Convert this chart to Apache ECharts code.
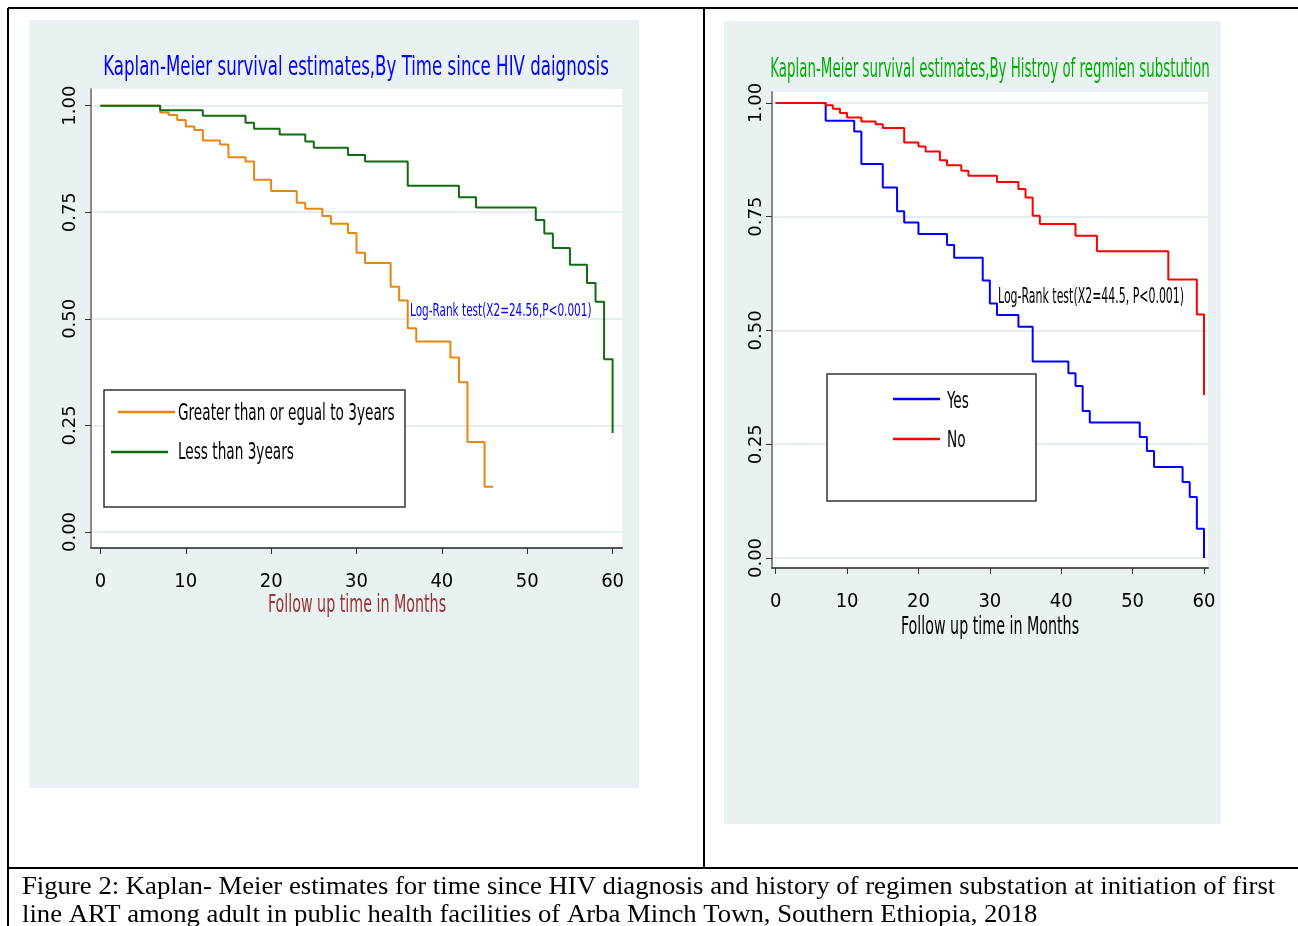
<!DOCTYPE html>
<html>
<head>
<meta charset="utf-8">
<script src="https://cdn.jsdelivr.net/npm/echarts@6/dist/echarts.min.js"></script>
<style>
html,body{margin:0;padding:0;background:#fff;}
#c{width:1298px;height:926px;}
</style>
</head>
<body>
<div id="c"></div>
<script>
// ---------- data ----------
const leftTitle = 'Kaplan-Meier survival estimates,By Time since HIV daignosis';
const rightTitle = 'Kaplan-Meier survival estimates,By Histroy of regmien substution';
const xTicks = [0, 10, 20, 30, 40, 50, 60];
const yTicks = [0, 0.25, 0.5, 0.75, 1];

// Left: time since HIV diagnosis
const gtName = 'Greater than or egual to 3years';
const gtTimes = [0, 7, 8, 9, 10, 11, 12, 14, 15, 17, 18, 20, 23, 24, 26, 27, 29, 30, 31, 34, 35, 36, 37, 41, 42, 43, 45, 46];
const gtSurv  = [1, 0.984, 0.978, 0.966, 0.951, 0.943, 0.918, 0.909, 0.879, 0.869, 0.826, 0.800, 0.772, 0.758, 0.741, 0.723, 0.701, 0.655, 0.631, 0.575, 0.543, 0.478, 0.447, 0.409, 0.351, 0.211, 0.106, 0.106];
const ltName = 'Less than 3years';
const ltTimes = [0, 7, 12, 17, 18, 21, 24, 25, 29, 31, 36, 42, 44, 51, 52, 53, 55, 57, 58, 59, 60];
const ltSurv  = [1, 0.989, 0.976, 0.960, 0.946, 0.932, 0.916, 0.901, 0.884, 0.869, 0.812, 0.785, 0.761, 0.732, 0.700, 0.666, 0.627, 0.584, 0.540, 0.405, 0.232];

// Right: history of regimen substitution
const yesName = 'Yes';
const yesTimes = [0, 7, 11, 12, 15, 17, 18, 20, 24, 25, 29, 30, 31, 34, 36, 41, 42, 43, 44, 51, 52, 53, 57, 58, 59, 60];
const yesSurv  = [1, 0.961, 0.937, 0.866, 0.814, 0.762, 0.737, 0.712, 0.688, 0.660, 0.610, 0.559, 0.534, 0.508, 0.432, 0.406, 0.378, 0.323, 0.298, 0.266, 0.235, 0.200, 0.167, 0.134, 0.064, 0.0];
const noName = 'No';
const noTimes = [0, 7, 8, 9, 10, 12, 14, 15, 18, 20, 21, 23, 24, 26, 27, 31, 34, 35, 36, 37, 42, 45, 55, 59, 60];
const noSurv  = [1, 0.995, 0.987, 0.978, 0.968, 0.959, 0.953, 0.945, 0.913, 0.904, 0.893, 0.874, 0.863, 0.851, 0.840, 0.826, 0.811, 0.792, 0.752, 0.734, 0.708, 0.674, 0.612, 0.535, 0.358];

const leftNote = 'Log-Rank test(X2=24.56,P<0.001)';
const rightNote = 'Log-Rank test(X2=44.5, P<0.001)';
const xName = 'Follow up time in Months';
const caption1 = 'Figure 2: Kaplan- Meier estimates for time since HIV diagnosis and history of regimen substation at initiation of first';
const caption2 = 'line ART among adult in public health facilities of Arba Minch Town, Southern Ethiopia, 2018';

// ---------- chart ----------
const NARROW = "'DejaVu Sans Condensed','Liberation Sans Narrow',sans-serif";
const pairs = (t, s) => t.map((v, i) => [v, s[i]]);
const PANEL = '#eaf1f3';
const GRIDC = '#e6edf0';
const C_GT = '#e8850c', C_LT = '#116b10', C_YES = '#0000ff', C_NO = '#ff0000';

function xAxisCfg(gridIndex, min, max, margin) {
  return {
    type: 'value', gridIndex, min, max,
    axisLine: { show: true, onZero: false, lineStyle: { color: '#555', width: 2 } },
    axisTick: { show: true, customValues: xTicks, length: 6, lineStyle: { color: '#333', width: 1 } },
    axisLabel: { customValues: xTicks, fontFamily: NARROW, fontSize: 20, color: '#000', margin },
    splitLine: { show: false }
  };
}
function yAxisCfg(gridIndex, min, max, margin) {
  return {
    type: 'value', gridIndex, min, max,
    axisLine: { show: true, onZero: false, lineStyle: { color: '#888', width: 2 } },
    axisTick: { show: true, customValues: yTicks, length: 6, lineStyle: { color: '#333', width: 1 } },
    axisLabel: { customValues: yTicks, rotate: 90, fontFamily: "'DejaVu Sans',sans-serif", fontSize: 18, color: '#000', margin,
      formatter: v => v.toFixed(2) },
    splitLine: { show: true, lineStyle: { color: GRIDC, width: 2 } }
  };
}
function km(name, t, s, color, xi, yi) {
  return { type: 'line', name, step: 'end', xAxisIndex: xi, yAxisIndex: yi, data: pairs(t, s),
    symbol: 'none', lineStyle: { color, width: 2 }, itemStyle: { color }, z: 2, animation: false };
}
function txt(x, y, text, fill, size, sx, align, family) {
  return { type: 'text', z: 20, x, y, scaleX: sx, scaleY: 1,
    style: { text, fill, font: size + 'px ' + (family || NARROW), textAlign: align || 'left', textVerticalAlign: 'middle' } };
}
function seg(x1, x2, y, color) {
  return { type: 'line', z: 5, shape: { x1, y1: y, x2, y2: y }, style: { stroke: color, lineWidth: 2.5 } };
}

const SERIF = "'Liberation Serif','Times New Roman',serif";
const chart = echarts.init(document.getElementById('c'), null, { renderer: 'canvas' });
chart.setOption({
  animation: false,
  backgroundColor: '#fff',
  grid: [
    { left: 91, top: 89, width: 531, height: 459, show: false },
    { left: 772, top: 92, width: 436, height: 476, show: false }
  ],
  xAxis: [
    xAxisCfg(0, -1.1, 61.1, 24),
    xAxisCfg(1, -0.52, 60.56, 24)
  ],
  yAxis: [
    yAxisCfg(0, -0.0376, 1.039, 12),
    yAxisCfg(1, -0.022, 1.024, 7)
  ],
  series: [
    km(gtName, gtTimes, gtSurv, C_GT, 0, 0),
    km(ltName, ltTimes, ltSurv, C_LT, 0, 0),
    km(yesName, yesTimes, yesSurv, C_YES, 1, 1),
    km(noName, noTimes, noSurv, C_NO, 1, 1)
  ],
  graphic: [
    // panels
    { type: 'rect', z: -10, shape: { x: 29, y: 20, width: 610, height: 768 }, style: { fill: PANEL } },
    { type: 'rect', z: -10, shape: { x: 724, y: 21, width: 497, height: 803 }, style: { fill: PANEL } },
    { type: 'rect', z: -9, shape: { x: 91, y: 89, width: 531, height: 459 }, style: { fill: '#fff' } },
    { type: 'rect', z: -9, shape: { x: 772, y: 92, width: 436, height: 476 }, style: { fill: '#fff' } },
    // table lines
    { type: 'line', z: 20, shape: { x1: 8, y1: 8, x2: 1298, y2: 8 }, style: { stroke: '#000', lineWidth: 2 } },
    { type: 'line', z: 20, shape: { x1: 8, y1: 8, x2: 8, y2: 926 }, style: { stroke: '#000', lineWidth: 2 } },
    { type: 'line', z: 20, shape: { x1: 704, y1: 8, x2: 704, y2: 868 }, style: { stroke: '#000', lineWidth: 2 } },
    { type: 'line', z: 20, shape: { x1: 8, y1: 868, x2: 1298, y2: 868 }, style: { stroke: '#000', lineWidth: 2 } },
    // legend boxes + entries
    { type: 'rect', z: 3, shape: { x: 104, y: 390, width: 301, height: 117 }, style: { fill: '#fff', stroke: '#333', lineWidth: 1.5 } },
    seg(118, 175, 412, C_GT),
    seg(111, 168, 452, C_LT),
    txt(178, 414, gtName, '#000', 23, 0.66),
    txt(178, 453, ltName, '#000', 23, 0.66),
    { type: 'rect', z: 3, shape: { x: 827, y: 374, width: 209, height: 127 }, style: { fill: '#fff', stroke: '#333', lineWidth: 1.5 } },
    seg(893, 940, 399, C_YES),
    seg(893, 940, 439, C_NO),
    txt(947, 402, yesName, '#000', 23, 0.66),
    txt(947, 441, noName, '#000', 23, 0.66),
    // titles
    txt(356, 68, leftTitle, '#0000ff', 27, 0.685, 'center'),
    txt(990, 70, rightTitle, '#00b000', 26, 0.573, 'center'),
    // notes
    txt(410, 311, leftNote, '#0000ff', 18, 0.648),
    txt(998, 298, rightNote, '#000', 21, 0.58),
    // axis names
    txt(357, 606, xName, '#993333', 24, 0.66, 'center'),
    txt(990, 628, xName, '#000', 24, 0.66, 'center'),
    // caption
    txt(22, 887, caption1, '#000', 26, 1.027, 'left', SERIF),
    txt(22, 915, caption2, '#000', 26, 1.027, 'left', SERIF)
  ]
});
</script>
</body>
</html>
